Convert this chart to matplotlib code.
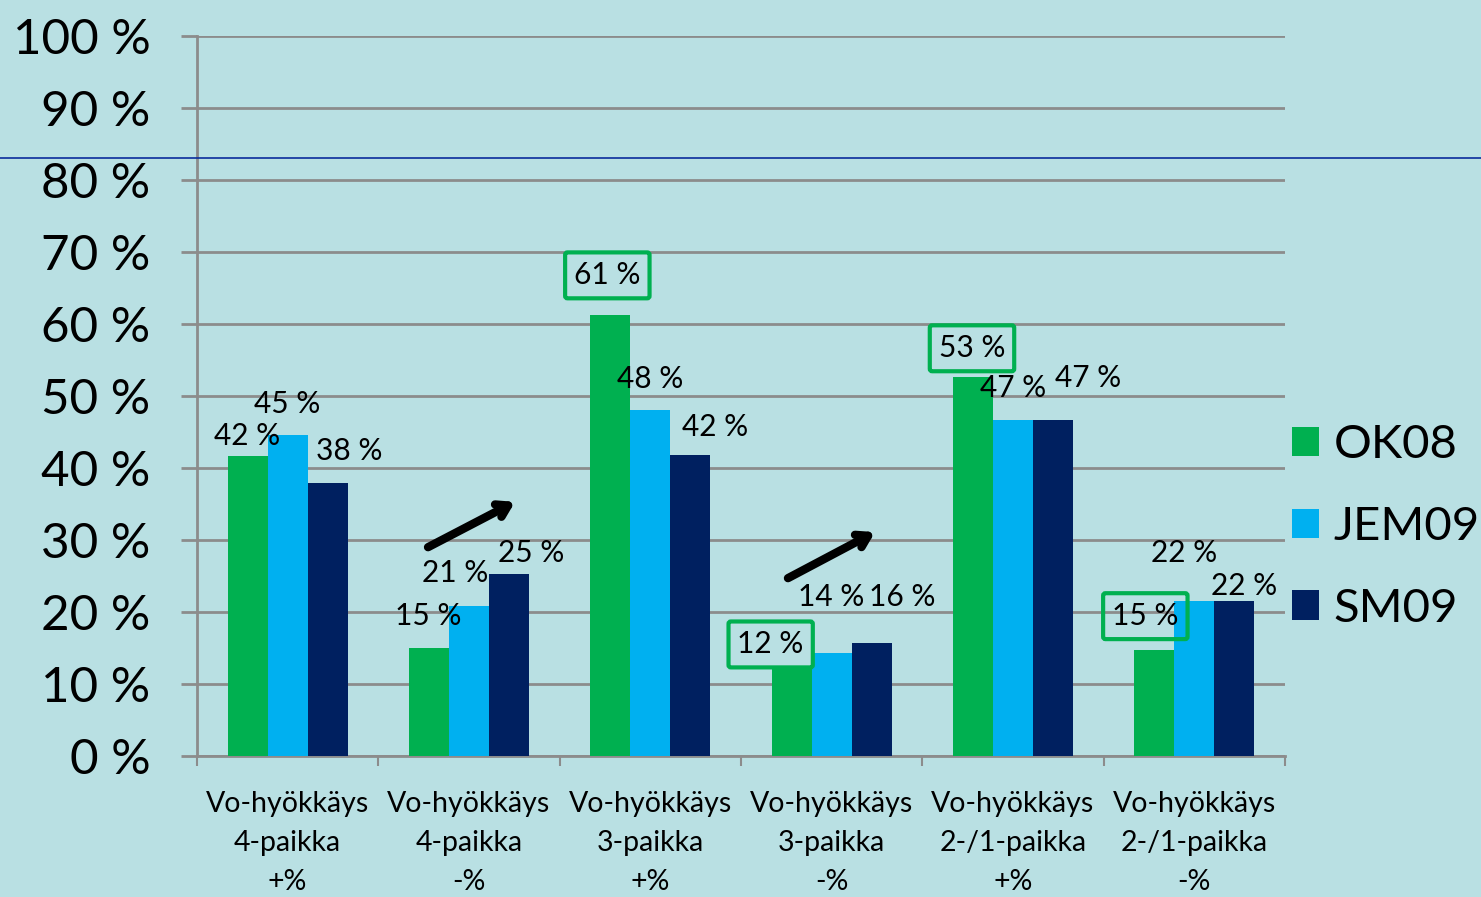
import matplotlib
matplotlib.use("Agg")
import matplotlib.pyplot as plt
import numpy as np

plt.rcParams['font.family'] = ['Lato', 'DejaVu Sans']

categories = ["Vo-hyökkäys\n4-paikka\n+%", "Vo-hyökkäys\n4-paikka\n-%",
              "Vo-hyökkäys\n3-paikka\n+%", "Vo-hyökkäys\n3-paikka\n-%",
              "Vo-hyökkäys\n2-/1-paikka\n+%", "Vo-hyökkäys\n2-/1-paikka\n-%"]
series_names = ["OK08", "JEM09", "SM09"]
ok08 = [41.7, 15.0, 61.2, 12.3, 52.6, 14.7]
jem09 = [44.6, 20.8, 48.1, 14.3, 46.6, 21.5]
sm09 = [37.9, 25.3, 41.8, 15.7, 46.7, 21.5]
yticks = [0, 10, 20, 30, 40, 50, 60, 70, 80, 90, 100]
boxed_ok08 = [False, False, True, True, True, True]

colors = ["#00B050", "#00B0F0", "#002060"]
bg = "#B9E0E3"
grid_c = "#8C8C8C"

# label offsets in pixels (dx, dy) relative to bar top centre, per series
label_offsets = [
    [(-1, 20), (-1, 32), (-3, 40), (-21, 23), (-1, 29), (-9, 34)],
    [(0, 31), (-14, 33), (0, 31), (0, 56), (0, 32), (-10, 48)],
    [(22, 32), (22, 21), (25, 28), (31, 46), (35, 42), (10, 15)],
]

W, H = 1481, 897
fig = plt.figure(figsize=(W / 100, H / 100), dpi=100, facecolor=bg)
ax = fig.add_axes([197 / W, 1 - 756 / H, (1285 - 197) / W, (756 - 36) / H])
ax.set_facecolor(bg)

x = np.arange(len(categories))
bw = 40 / 181.33
series = [ok08, jem09, sm09]
for i, (vals, name, col) in enumerate(zip(series, series_names, colors)):
    ax.bar(x + (i - 1) * bw, vals, width=bw, color=col, label=name, zorder=3,
           linewidth=0)

ax.set_xlim(-0.5, len(categories) - 0.5)
ax.set_ylim(0, 100)
ax.set_yticks(yticks)
ax.set_yticklabels([f"{t} %" for t in yticks], fontsize=35.5)
ax.yaxis.grid(True, color=grid_c, linewidth=2, zorder=0)
ax.tick_params(axis='y', length=11.5, width=2, color=grid_c, pad=22)

ax.set_xticks(x)
ax.set_xticklabels(categories, fontsize=20.5, linespacing=1.62)
ax.tick_params(axis='x', which='major', length=0, pad=25)
ax.set_xticks(np.arange(-0.5, len(categories), 1.0), minor=True)
ax.tick_params(axis='x', which='minor', length=7.5, width=1.5, color=grid_c)

for s in ['top', 'right']:
    ax.spines[s].set_visible(False)
for s in ['left', 'bottom']:
    ax.spines[s].set_color(grid_c)
    ax.spines[s].set_linewidth(2)

# data labels
for i, vals in enumerate(series):
    for j, v in enumerate(vals):
        dx, dy = label_offsets[i][j]
        kw = {}
        if i == 0 and boxed_ok08[j]:
            kw['bbox'] = dict(boxstyle='round,pad=0.3,rounding_size=0.08', fc='none',
                              ec=colors[0], lw=3)
        ax.annotate(f"{round(v)} %", xy=(x[j] + (i - 1) * bw, v),
                    xytext=(dx * 0.72, dy * 0.72), textcoords='offset points',
                    ha='center', va='center', fontsize=21.5, zorder=5, **kw)

# trend arrows
for (x0, y0, x1, y1) in [(0.774, 29.0, 1.254, 35.3), (2.759, 24.7, 3.239, 31.1)]:
    ax.annotate("", xy=(x1, y1), xytext=(x0, y0),
                arrowprops=dict(arrowstyle='->,head_length=0.8,head_width=0.5',
                                color='black', lw=6, capstyle='round',
                                joinstyle='round', shrinkA=0, shrinkB=0),
                zorder=6)

# legend
leg = fig.legend(loc='center left', bbox_to_anchor=(1292 / W, 1 - 527 / H),
                 frameon=False, fontsize=34, handlelength=0.58, handleheight=0.58,
                 handletextpad=0.3, labelspacing=0.84, borderpad=0, borderaxespad=0)

# thin blue horizontal line across figure
fig.add_artist(plt.Line2D([0, 1], [1 - 158 / H, 1 - 158 / H], transform=fig.transFigure,
                          color="#0A2D9C", lw=1.2))

fig.savefig("out.png", dpi=100, facecolor=bg)
